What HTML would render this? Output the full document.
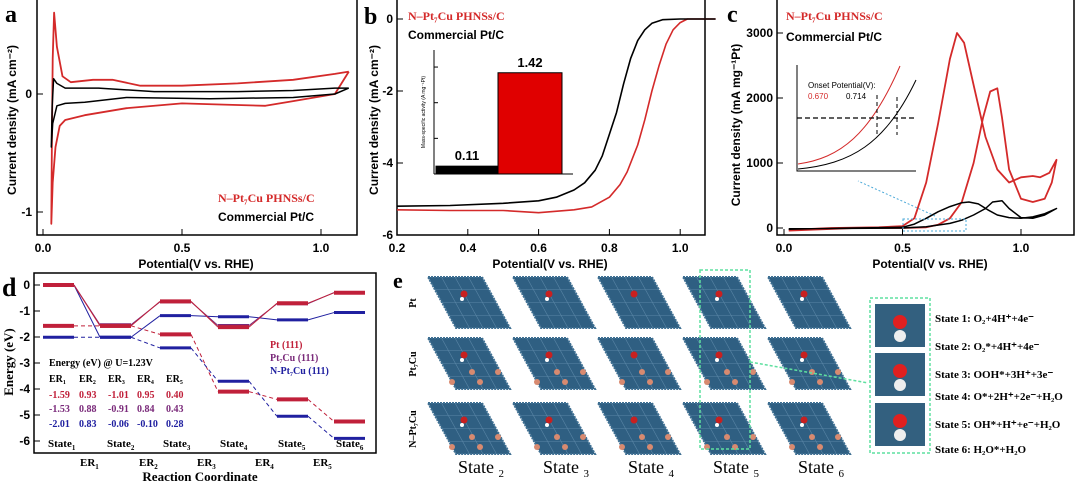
<!DOCTYPE html>
<html><head><meta charset="utf-8">
<style>
html,body{margin:0;padding:0;background:#fff;}
svg{display:block;font-family:"Liberation Sans",Arial,sans-serif;}
.serif{font-family:"Liberation Serif","Times New Roman",serif;}
</style></head>
<body>
<svg id="fig" width="1080" height="484" viewBox="0 0 1080 484" xmlns="http://www.w3.org/2000/svg">
<g id="pa"></g>
<g id="pb"></g>
<g id="pc"></g>
<g id="pd"></g>
<g id="pe"></g>
</svg>
<script>
// ---- Panel a data (CV) ----
const aRedX = [1.1,1.05,0.9,0.8,0.65,0.5,0.3,0.15,0.08,0.06,0.045,0.035,0.03,0.032,0.035,0.04,0.05,0.07,0.1,0.18,0.25,0.35,0.5,0.7,0.9,1.05,1.1];
const aRedY = [0.19,0.0,-0.06,-0.1,-0.09,-0.08,-0.12,-0.18,-0.22,-0.27,-0.45,-0.75,-1.1,-0.4,0.3,0.69,0.4,0.15,0.1,0.12,0.12,0.07,0.07,0.09,0.12,0.17,0.19];
const aBlkX = [1.1,1.05,0.9,0.6,0.3,0.15,0.08,0.05,0.035,0.03,0.033,0.038,0.05,0.08,0.2,0.4,0.7,0.9,1.05,1.1];
const aBlkY = [0.05,0.0,-0.03,-0.04,-0.03,-0.07,-0.08,-0.1,-0.25,-0.45,-0.1,0.13,0.09,0.05,0.05,0.02,0.02,0.03,0.05,0.05];
const aXTicks = [0,0.5,1.0];
const aXLabels = ["0.0","0.5","1.0"];
const aYTicks = [0,-1];
const aYLabels = ["0","-1"];
// ---- Panel b data (LSV) ----
const bBlkX = [0.2,0.35,0.5,0.6,0.65,0.7,0.73,0.76,0.78,0.8,0.82,0.84,0.86,0.88,0.9,0.92,0.95,1.0,1.1];
const bBlkY = [-5.2,-5.18,-5.12,-5.05,-4.95,-4.75,-4.55,-4.2,-3.8,-3.2,-2.6,-1.8,-1.1,-0.6,-0.3,-0.12,-0.02,0,0];
const bRedX = [0.2,0.35,0.5,0.6,0.7,0.75,0.8,0.83,0.85,0.88,0.9,0.92,0.94,0.96,0.98,1.0,1.02,1.1];
const bRedY = [-5.3,-5.32,-5.32,-5.38,-5.3,-5.22,-4.95,-4.6,-4.25,-3.5,-2.8,-2.0,-1.3,-0.7,-0.3,-0.1,0,0];
const bXTicks = [0.2,0.4,0.6,0.8,1.0];
const bXLabels = ["0.2","0.4","0.6","0.8","1.0"];
const bYTicks = [0,-2,-4,-6];
const bYLabels = ["0","-2","-4","-6"];
const bBarVals = [0.11,1.42];
const bBarLabels = ["0.11","1.42"];
// ---- Panel c data ----
const cRedX = [0.02,0.2,0.4,0.5,0.55,0.6,0.65,0.7,0.73,0.76,0.8,0.85,0.9,0.95,1.0,1.05,1.08,1.12,1.15,1.13,1.1,1.05,1.0,0.95,0.92,0.9,0.87,0.84,0.8,0.75,0.7,0.65,0.6,0.5,0.3,0.02];
const cRedY = [-30,0,10,30,150,700,1600,2600,3000,2850,2200,1400,900,700,780,800,780,850,1050,700,450,400,450,900,1700,2150,2100,1700,1000,400,150,50,10,0,0,-40];
const cBlkX = [0.02,0.3,0.5,0.55,0.6,0.65,0.7,0.75,0.78,0.82,0.86,0.9,0.95,1.0,1.05,1.1,1.15,1.1,1.05,1.0,0.95,0.92,0.88,0.85,0.8,0.75,0.7,0.6,0.5,0.02];
const cBlkY = [-20,0,10,60,150,250,330,390,400,370,280,200,160,150,170,220,300,200,150,160,300,420,400,300,200,120,70,20,0,-10];
const cXTicks = [0,0.5,1.0];
const cXLabels = ["0.0","0.5","1.0"];
const cYTicks = [0,1000,2000,3000];
const cYLabels = ["0","1000","2000","3000"];
// ---- Panel d data ----
const dPt = [0,-1.57,-0.63,-1.62,-0.7,-0.3];
const dPt7 = [0,-1.53,-0.65,-1.56,-0.72,-0.29];
const dN = [0,-2.01,-1.18,-1.22,-1.34,-1.06];
const dPtLow = [-1.57,-1.57,-1.9,-4.1,-4.4,-5.25];
const dNLow = [-2.01,-2.01,-2.42,-3.7,-5.05,-5.9];
const dYTicks = [0,-1,-2,-3,-4,-5,-6];
const dStates = ["1","2","3","4","5","6"];
const dERrow1 = ["-1.59","0.93","-1.01","0.95","0.40"];
const dERrow2 = ["-1.53","0.88","-0.91","0.84","0.43"];
const dERrow3 = ["-2.01","0.83","-0.06","-0.10","0.28"];

const NS="http://www.w3.org/2000/svg";
function mk(parent,tag,attrs,text){const e=document.createElementNS(NS,tag);for(const k in attrs)e.setAttribute(k,attrs[k]);if(text!==undefined)e.textContent=text;parent.appendChild(e);return e;}
function poly(g,xs,ys,fx,fy,col,w){return mk(g,'polyline',{points:xs.map((x,i)=>fx(x).toFixed(1)+','+fy(ys[i]).toFixed(1)).join(' '),fill:'none',stroke:col,'stroke-width':w||1.5,'stroke-linejoin':'round'});}
const RED='#d42a2a';

// ===== Panel a =====
(function(){
 const g=document.getElementById('pa');
 const fx=v=>43+v*278, fy=v=>94-v*118;
 let f=mk(g,'rect',{x:37,y:-2,width:320,height:237,fill:'none',stroke:'#000','stroke-width':1.5});
 
 aXTicks.forEach((t,i)=>{mk(g,'line',{x1:fx(t),x2:fx(t),y1:235,y2:229,stroke:'#000'});let l=mk(g,'text',{x:fx(t),y:252,'text-anchor':'middle','font-size':12,'font-weight':'bold'},aXLabels[i]);});
 aYTicks.forEach((t,i)=>{mk(g,'line',{x1:37,x2:43,y1:fy(t),y2:fy(t),stroke:'#000'});let l=mk(g,'text',{x:32,y:fy(t)+4,'text-anchor':'end','font-size':12,'font-weight':'bold'},aYLabels[i]);});
 let r=poly(g,aRedX,aRedY,fx,fy,RED,1.8);
 let b=poly(g,aBlkX,aBlkY,fx,fy,'#000',1.5);
 let t=mk(g,'text',{x:196,y:268,'text-anchor':'middle','font-size':12,'font-weight':'bold'},'Potential(V vs. RHE)');
 t=mk(g,'text',{x:16,y:120,'text-anchor':'middle','font-size':12,'font-weight':'bold',transform:'rotate(-90 16 120)'},'Current density (mA cm\u207B\u00B2)');
 t=mk(g,'text',{x:5,y:22,'font-size':24,'font-weight':'bold',class:'serif'},'a');
 t=mk(g,'text',{x:218,y:202,'font-size':12,'font-weight':'bold',fill:RED,class:'serif'},'N\u2013Pt\u2087Cu PHNSs/C');
 t=mk(g,'text',{x:218,y:221,'font-size':12,'font-weight':'bold'},'Commercial Pt/C');
})();

// ===== Panel b =====
(function(){
 const g=document.getElementById('pb');
 const fx=v=>397+(v-0.2)*354, fy=v=>19-v*36;
 let f=mk(g,'rect',{x:397,y:-2,width:308,height:237,fill:'none',stroke:'#000','stroke-width':1.5});
 bXTicks.forEach((t,i)=>{mk(g,'line',{x1:fx(t),x2:fx(t),y1:235,y2:229,stroke:'#000'});let l=mk(g,'text',{x:fx(t),y:252,'text-anchor':'middle','font-size':12,'font-weight':'bold'},bXLabels[i]);});
 bYTicks.forEach((t,i)=>{mk(g,'line',{x1:397,x2:403,y1:fy(t),y2:fy(t),stroke:'#000'});let l=mk(g,'text',{x:393,y:fy(t)+4,'text-anchor':'end','font-size':12,'font-weight':'bold'},bYLabels[i]);});
 let r=poly(g,bRedX,bRedY,fx,fy,RED,1.6);
 let b=poly(g,bBlkX,bBlkY,fx,fy,'#000',1.6);
 let t=mk(g,'text',{x:550,y:268,'text-anchor':'middle','font-size':12,'font-weight':'bold'},'Potential(V vs. RHE)');
 t=mk(g,'text',{x:378,y:120,'text-anchor':'middle','font-size':12,'font-weight':'bold',transform:'rotate(-90 378 120)'},'Current density (mA cm\u207B\u00B2)');
 t=mk(g,'text',{x:364,y:24,'font-size':24,'font-weight':'bold',class:'serif'},'b');
 t=mk(g,'text',{x:408,y:20,'font-size':12,'font-weight':'bold',fill:RED,class:'serif'},'N\u2013Pt\u2087Cu PHNSs/C');
 t=mk(g,'text',{x:408,y:39,'font-size':12,'font-weight':'bold'},'Commercial Pt/C');
 // inset bar chart
 const by=v=>174-v*71.3;
 mk(g,'line',{x1:434,x2:434,y1:50,y2:174,stroke:'#000'});
 mk(g,'line',{x1:434,x2:573,y1:174,y2:174,stroke:'#000'});
 [0,0.5,1.0,1.5].forEach(v=>mk(g,'line',{x1:434,x2:438,y1:by(v),y2:by(v),stroke:'#000'}));
 const bx=[436,498], bw=[62,64], cols=['#000','#e00000'];
 bBarVals.forEach((v,i)=>{let rr=mk(g,'rect',{x:bx[i],y:by(v),width:bw[i],height:174-by(v),fill:cols[i],stroke:'#000','stroke-width':1});
  let l=mk(g,'text',{x:bx[i]+bw[i]/2,y:by(v)-6,'text-anchor':'middle','font-size':13,'font-weight':'bold'},bBarLabels[i]);});
 t=mk(g,'text',{x:425,y:112,'text-anchor':'middle','font-size':5,transform:'rotate(-90 425 112)'},'Mass-specific activity (A mg\u207B\u00B9Pt)');
})();

// ===== Panel c =====
(function(){
 const g=document.getElementById('pc');
 const fx=v=>784+v*237, fy=v=>228-v*0.065;
 let f=mk(g,'rect',{x:777,y:-2,width:297,height:237,fill:'none',stroke:'#000','stroke-width':1.5});
 cXTicks.forEach((t,i)=>{mk(g,'line',{x1:fx(t),x2:fx(t),y1:235,y2:229,stroke:'#000'});let l=mk(g,'text',{x:fx(t),y:252,'text-anchor':'middle','font-size':12,'font-weight':'bold'},cXLabels[i]);});
 cYTicks.forEach((t,i)=>{mk(g,'line',{x1:777,x2:783,y1:fy(t),y2:fy(t),stroke:'#000'});let l=mk(g,'text',{x:773,y:fy(t)+4,'text-anchor':'end','font-size':12,'font-weight':'bold'},cYLabels[i]);});
 let r=poly(g,cRedX,cRedY,fx,fy,RED,1.8);
 let b=poly(g,cBlkX,cBlkY,fx,fy,'#000',1.5);
 let t=mk(g,'text',{x:930,y:268,'text-anchor':'middle','font-size':12,'font-weight':'bold'},'Potential(V vs. RHE)');
 t=mk(g,'text',{x:740,y:125,'text-anchor':'middle','font-size':12,'font-weight':'bold',transform:'rotate(-90 740 125)'},'Current density (mA mg\u207B\u00B9Pt)');
 t=mk(g,'text',{x:727,y:22,'font-size':24,'font-weight':'bold',class:'serif'},'c');
 t=mk(g,'text',{x:786,y:20,'font-size':12,'font-weight':'bold',fill:RED,class:'serif'},'N\u2013Pt\u2087Cu PHNSs/C');
 t=mk(g,'text',{x:786,y:41,'font-size':12,'font-weight':'bold'},'Commercial Pt/C');
 // inset
 mk(g,'rect',{x:795,y:65,width:122,height:108,fill:'#fff'});
 mk(g,'polyline',{points:'797,65 797,171 916,171',fill:'none',stroke:'#000','stroke-width':1});
 mk(g,'path',{d:'M798,164 C840,158 870,135 900,66',fill:'none',stroke:RED,'stroke-width':1});
 mk(g,'path',{d:'M798,169 C850,164 885,145 916,80',fill:'none',stroke:'#000','stroke-width':1});
 mk(g,'line',{x1:797,x2:916,y1:118,y2:118,stroke:'#000','stroke-width':1.3,'stroke-dasharray':'5,3'});
 mk(g,'line',{x1:877,x2:877,y1:95,y2:135,stroke:'#000','stroke-dasharray':'4,3'});
 mk(g,'line',{x1:897,x2:897,y1:97,y2:135,stroke:'#000','stroke-dasharray':'4,3'});
 t=mk(g,'text',{x:808,y:88,'font-size':8},'Onset Potential(V):');
 t=mk(g,'text',{x:808,y:99,'font-size':8,fill:RED},'0.670');
 t=mk(g,'text',{x:846,y:99,'font-size':8},'0.714');
 mk(g,'rect',{x:903,y:219,width:63,height:12,fill:'none',stroke:'#4aa8d8','stroke-dasharray':'2,2'});
 mk(g,'line',{x1:935,x2:858,y1:216,y2:181,stroke:'#4aa8d8','stroke-dasharray':'2,2'});
})();

// ===== Panel d =====
(function(){
 const g=document.getElementById('pd');
 const fy=v=>285-v*26;
 const sx=[43,100,160,218,277,334], sw=31;
 let f=mk(g,'rect',{x:34,y:273,width:342,height:180,fill:'none',stroke:'#000','stroke-width':1.5});
 dYTicks.forEach(t=>{mk(g,'line',{x1:34,x2:40,y1:fy(t),y2:fy(t),stroke:'#000'});let l=mk(g,'text',{x:30,y:fy(t)+4,'text-anchor':'end','font-size':12,'font-weight':'bold'},String(t));});
 function path(vals,col,w,dash,name){
  for(let i=0;i<vals.length;i++){let l=mk(g,'line',{x1:sx[i],x2:sx[i]+sw,y1:fy(vals[i]),y2:fy(vals[i]),stroke:col,'stroke-width':w});
   if(i<vals.length-1)mk(g,'line',{x1:sx[i]+sw,x2:sx[i+1],y1:fy(vals[i]),y2:fy(vals[i+1]),stroke:col,'stroke-width':1,'stroke-dasharray':dash||''});}
 }
 path(dPtLow,'#c0203a',4,'4,3','pt-low');
 path(dNLow,'#2020a0',3,'4,3','n-low');
 path(dN,'#2020a0',3,'','n-pt7cu');
 path(dPt7,'#7a2a7a',3,'','pt7cu');
 path(dPt,'#c0203a',4,'','pt');
 const S='serif';
 const stx=[48,107,163,220,278,336];
 dStates.forEach((s,i)=>{let l=mk(g,'text',{x:stx[i],y:447,'font-size':11,'font-weight':'bold',class:S},'State');mk(l,'tspan',{'font-size':7,dy:3},s);});
 const erx=[80,139,197,255,313];
 erx.forEach((x,i)=>{let l=mk(g,'text',{x:x,y:466,'font-size':11,'font-weight':'bold',class:S},'ER');mk(l,'tspan',{'font-size':7,dy:3},String(i+1));});
 let t=mk(g,'text',{x:200,y:481,'text-anchor':'middle','font-size':13,'font-weight':'bold',class:S},'Reaction Coordinate');
 t=mk(g,'text',{x:13,y:362,'text-anchor':'middle','font-size':13,'font-weight':'bold',class:S,transform:'rotate(-90 13 362)'},'Energy (eV)');
 t=mk(g,'text',{x:2,y:296,'font-size':26,'font-weight':'bold',class:S},'d');
 t=mk(g,'text',{x:49,y:366,'font-size':10,'font-weight':'bold',class:S},'Energy (eV) @ U=1.23V');
 const cx=[49,79,108,137,166];
 cx.forEach((x,i)=>{let l=mk(g,'text',{x:x,y:382,'font-size':10,'font-weight':'bold',class:S},'ER');mk(l,'tspan',{'font-size':6,dy:2},String(i+1));});
 [[dERrow1,'#c0203a',398],[dERrow2,'#7a2a7a',412],[dERrow3,'#2020a0',427]].forEach(([row,col,y])=>row.forEach((v,i)=>{let l=mk(g,'text',{x:cx[i],y:y,'font-size':10,'font-weight':'bold',fill:col,class:S},v);}));
 [['Pt (111)','#c0203a',348],['Pt\u2087Cu (111)','#7a2a7a',361],['N-Pt\u2087Cu (111)','#2020a0',374]].forEach(([s,c,y])=>{let l=mk(g,'text',{x:270,y:y,'font-size':10,'font-weight':'bold',fill:c,class:S},s);});
})();

// ===== Panel e =====
(function(){
 const g=document.getElementById('pe');
 let t=mk(g,'text',{x:393,y:288,'font-size':22,'font-weight':'bold',class:'serif'},'e');
 const rowY=[277,338,403], colX=[430,515,600,685,770];
 const rowL=['Pt','Pt\u2087Cu','N\u2013Pt\u2087Cu'];
 rowY.forEach((y,r)=>{
  let l=mk(g,'text',{x:416,y:y+26,'text-anchor':'middle','font-size':10,'font-weight':'bold',class:'serif',transform:`rotate(-90 416 ${y+26})`},rowL[r]);
  colX.forEach((x,c)=>{
   let p=mk(g,'polygon',{points:`${x-2},${y} ${x+52},${y} ${x+80},${y+51} ${x+26},${y+51}`,fill:'#2f5f82',stroke:'#3e6f92','stroke-width':2,'stroke-dasharray':'2,1'});
   
   for(let k=1;k<4;k++){mk(g,'line',{x1:x-2+k*13.5,y1:y,x2:x+26+k*13.5,y2:y+51,stroke:'#5a86a6','stroke-width':0.6});mk(g,'line',{x1:x-2+k*7,y1:y+k*12.75,x2:x+52+k*7,y2:y+k*12.75,stroke:'#5a86a6','stroke-width':0.6});}
   mk(g,'circle',{cx:x+34,cy:y+17,r:3.5,fill:'#c82020'});
   if(c!==2)mk(g,'circle',{cx:x+32,cy:y+22,r:2,fill:'#fff'});
   if(r>0){[[22,44],[42,34],[50,44],[68,34]].forEach(([dx,dy])=>mk(g,'circle',{cx:x+dx,cy:y+dy,r:3,fill:'#d88a70'}));}
  });
 });
 let gb=mk(g,'rect',{x:700,y:270,width:50,height:179,fill:'none',stroke:'#5fe0a0','stroke-width':1.5,'stroke-dasharray':'3,2'});
 mk(g,'line',{x1:750,y1:362,x2:868,y2:383,stroke:'#5fe0a0','stroke-width':1.5,'stroke-dasharray':'3,2'});
 ['2','3','4','5','6'].forEach((s,i)=>{let l=mk(g,'text',{x:colX[i]+28,y:473,'font-size':18,class:'serif'},'State ');mk(l,'tspan',{'font-size':11,dy:4},s);});
 let ib=mk(g,'rect',{x:870,y:298,width:60,height:155,fill:'none',stroke:'#5fe0a0','stroke-width':1.5,'stroke-dasharray':'3,2'});
 [[304,'oh'],[353,'ooh'],[403,'h2o']].forEach(([y,n])=>{
  let b=mk(g,'rect',{x:875,y:y,width:50,height:43,fill:'#33607f'});
  mk(g,'circle',{cx:900,cy:y+18,r:7,fill:'#e02020'});mk(g,'circle',{cx:900,cy:y+32,r:6,fill:'#eee'});
 });
 const st=['State 1: O\u2082+4H\u207A+4e\u207B','State 2: O\u2082*+4H\u207A+4e\u207B','State 3: OOH*+3H\u207A+3e\u207B','State 4: O*+2H\u207A+2e\u207B+H\u2082O','State 5: OH*+H\u207A+e\u207B+H\u2082O','State 6: H\u2082O*+H\u2082O'];
 const sy=[322,350,378,400,428,453];
 st.forEach((s,i)=>{let l=mk(g,'text',{x:935,y:sy[i],'font-size':11,'font-weight':'bold',class:'serif'},s);});
})();
</script>
</body></html>
